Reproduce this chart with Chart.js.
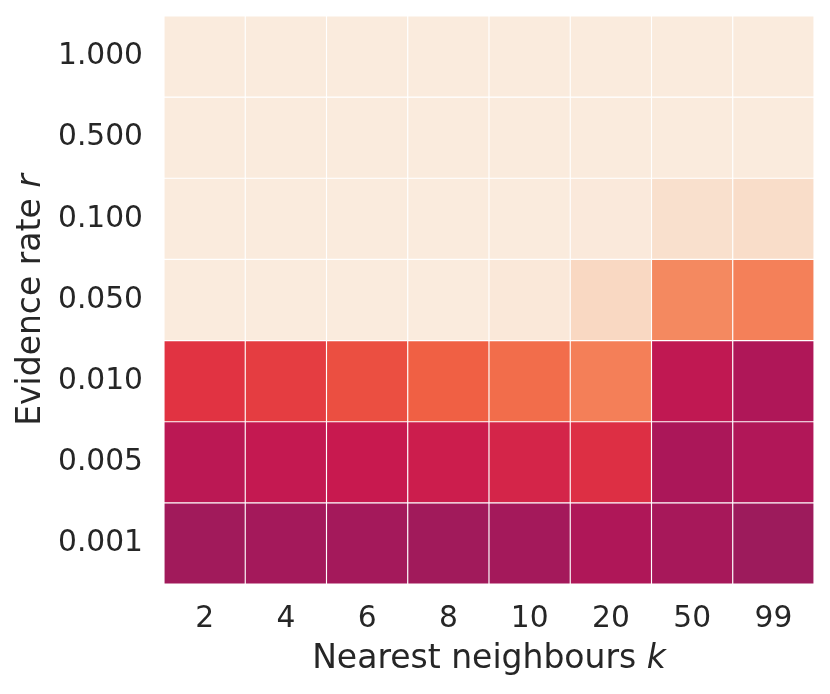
<!DOCTYPE html>
<html>
<head>
<meta charset="utf-8">
<script src="https://cdn.jsdelivr.net/npm/chart.js@4.4.0/dist/chart.umd.min.js"></script>
<style>
  html, body { margin: 0; padding: 0; background: #fff; }
  #wrap { width: 830px; height: 694px; position: relative; }
</style>
</head>
<body>
<div id="wrap"><canvas id="chart"></canvas></div>
<script>
// categories
const kLabels = ['2', '4', '6', '8', '10', '20', '50', '99'];
const rLabels = ['1.000', '0.500', '0.100', '0.050', '0.010', '0.005', '0.001'];

// cell values on the colour scale (0 = dark end, 1 = light end), one row per r, top to bottom
const row1000 = [1.000, 1.000, 1.000, 1.000, 1.000, 1.000, 1.000, 1.000];
const row0500 = [1.000, 1.000, 1.000, 1.000, 1.000, 1.000, 1.000, 1.000];
const row0100 = [1.000, 1.000, 1.000, 1.000, 1.000, 0.996, 0.971, 0.964];
const row0050 = [1.000, 1.000, 1.000, 1.000, 0.992, 0.951, 0.759, 0.738];
const row0010 = [0.571, 0.589, 0.621, 0.656, 0.690, 0.736, 0.479, 0.434];
const row0005 = [0.466, 0.489, 0.500, 0.511, 0.534, 0.560, 0.423, 0.439];
const row0001 = [0.392, 0.401, 0.401, 0.392, 0.401, 0.434, 0.411, 0.380];
const cellRows = [row1000, row0500, row0100, row0050, row0010, row0005, row0001];

// rocket-like colour map
const rocketStops = [
    [0.000, [3, 5, 26]],
    [0.143, [53, 25, 62]],
    [0.286, [112, 31, 87]],
    [0.380, [157, 27, 92]],
    [0.429, [173, 23, 89]],
    [0.500, [200, 25, 79]],
    [0.571, [225, 51, 66]],
    [0.640, [239, 90, 64]],
    [0.714, [243, 118, 81]],
    [0.786, [245, 148, 105]],
    [0.857, [246, 180, 143]],
    [1.000, [250, 235, 221]]
];

function rocket(t) {
    t = Math.min(1, Math.max(0, t));
    for (let i = 1; i < rocketStops.length; i++) {
        const [t1, c1] = rocketStops[i];
        const [t0, c0] = rocketStops[i - 1];
        if (t <= t1) {
            const f = (t - t0) / (t1 - t0);
            const c = c0.map((v, j) => Math.round(v + (c1[j] - v) * f));
            return `rgb(${c[0]}, ${c[1]}, ${c[2]})`;
        }
    }
    return 'rgb(250, 235, 221)';
}

const TEXT = '#262626';
Chart.defaults.font.family = '"DejaVu Sans"';
Chart.defaults.color = TEXT;

// one floating-bar dataset per row, all drawn on top of each other
const datasets = cellRows.map((row, i) => ({
    label: rLabels[i],
    data: row.map(() => [i - 0.5, i + 0.5]),
    backgroundColor: row.map(v => rocket(v)),
    borderColor: '#ffffff',
    borderWidth: 0.9,
    borderSkipped: false,
    grouped: false,
    barPercentage: 1,
    categoryPercentage: 1
}));

function drawMixedTitle(ctx, plain, ital, cx, y) {
    const fPlain = '33px "DejaVu Sans"';
    const fItal = 'italic 33px "DejaVu Sans"';
    ctx.font = fPlain;
    const w1 = ctx.measureText(plain).width;
    ctx.font = fItal;
    const w2 = ctx.measureText(ital).width;
    const x = cx - (w1 + w2) / 2;
    ctx.fillStyle = TEXT;
    ctx.textAlign = 'left';
    ctx.textBaseline = 'alphabetic';
    ctx.font = fPlain;
    ctx.fillText(plain, x, y);
    ctx.font = fItal;
    ctx.fillText(ital, x + w1, y);
}

const axisTitles = {
    id: 'axisTitles',
    afterDraw(chart) {
        const ctx = chart.ctx;
        const a = chart.chartArea;
        ctx.save();
        drawMixedTitle(ctx, 'Nearest neighbours ', 'k', (a.left + a.right) / 2, 668);
        ctx.translate(40, (a.top + a.bottom) / 2);
        ctx.rotate(-Math.PI / 2);
        drawMixedTitle(ctx, 'Evidence rate ', 'r', 0, 0);
        ctx.restore();
    }
};

const config = {
    type: 'bar',
    data: { labels: kLabels, datasets: datasets },
    options: {
        responsive: true,
        maintainAspectRatio: false,
        animation: false,
        layout: { padding: { top: 16, right: 16, left: 0, bottom: 0 } },
        plugins: { legend: { display: false }, tooltip: { enabled: false }, title: { display: false } },
        scales: {
            x: {
                type: 'category',
                offset: true,
                grid: { display: false, drawTicks: false },
                border: { display: false },
                ticks: { font: { size: 29.7 }, color: TEXT, padding: 17, maxRotation: 0 },
                afterFit(scale) {
                    scale.height = 110;
                    scale.paddingLeft = 0;
                    scale.paddingRight = 0;
                }
            },
            y: {
                type: 'linear',
                reverse: true,
                min: -0.5,
                max: 6.5,
                grid: { display: false, drawTicks: false },
                border: { display: false },
                afterBuildTicks(scale) {
                    scale.ticks = rLabels.map((_, i) => ({ value: i }));
                },
                ticks: {
                    font: { size: 29.7 },
                    color: TEXT,
                    padding: 21,
                    callback: (v) => rLabels[v]
                },
                afterFit(scale) {
                    scale.width = 164;
                    scale.paddingTop = 0;
                    scale.paddingBottom = 0;
                }
            }
        }
    },
    plugins: [axisTitles]
};

const myChart = new Chart(document.getElementById('chart'), config);
</script>
</body>
</html>
